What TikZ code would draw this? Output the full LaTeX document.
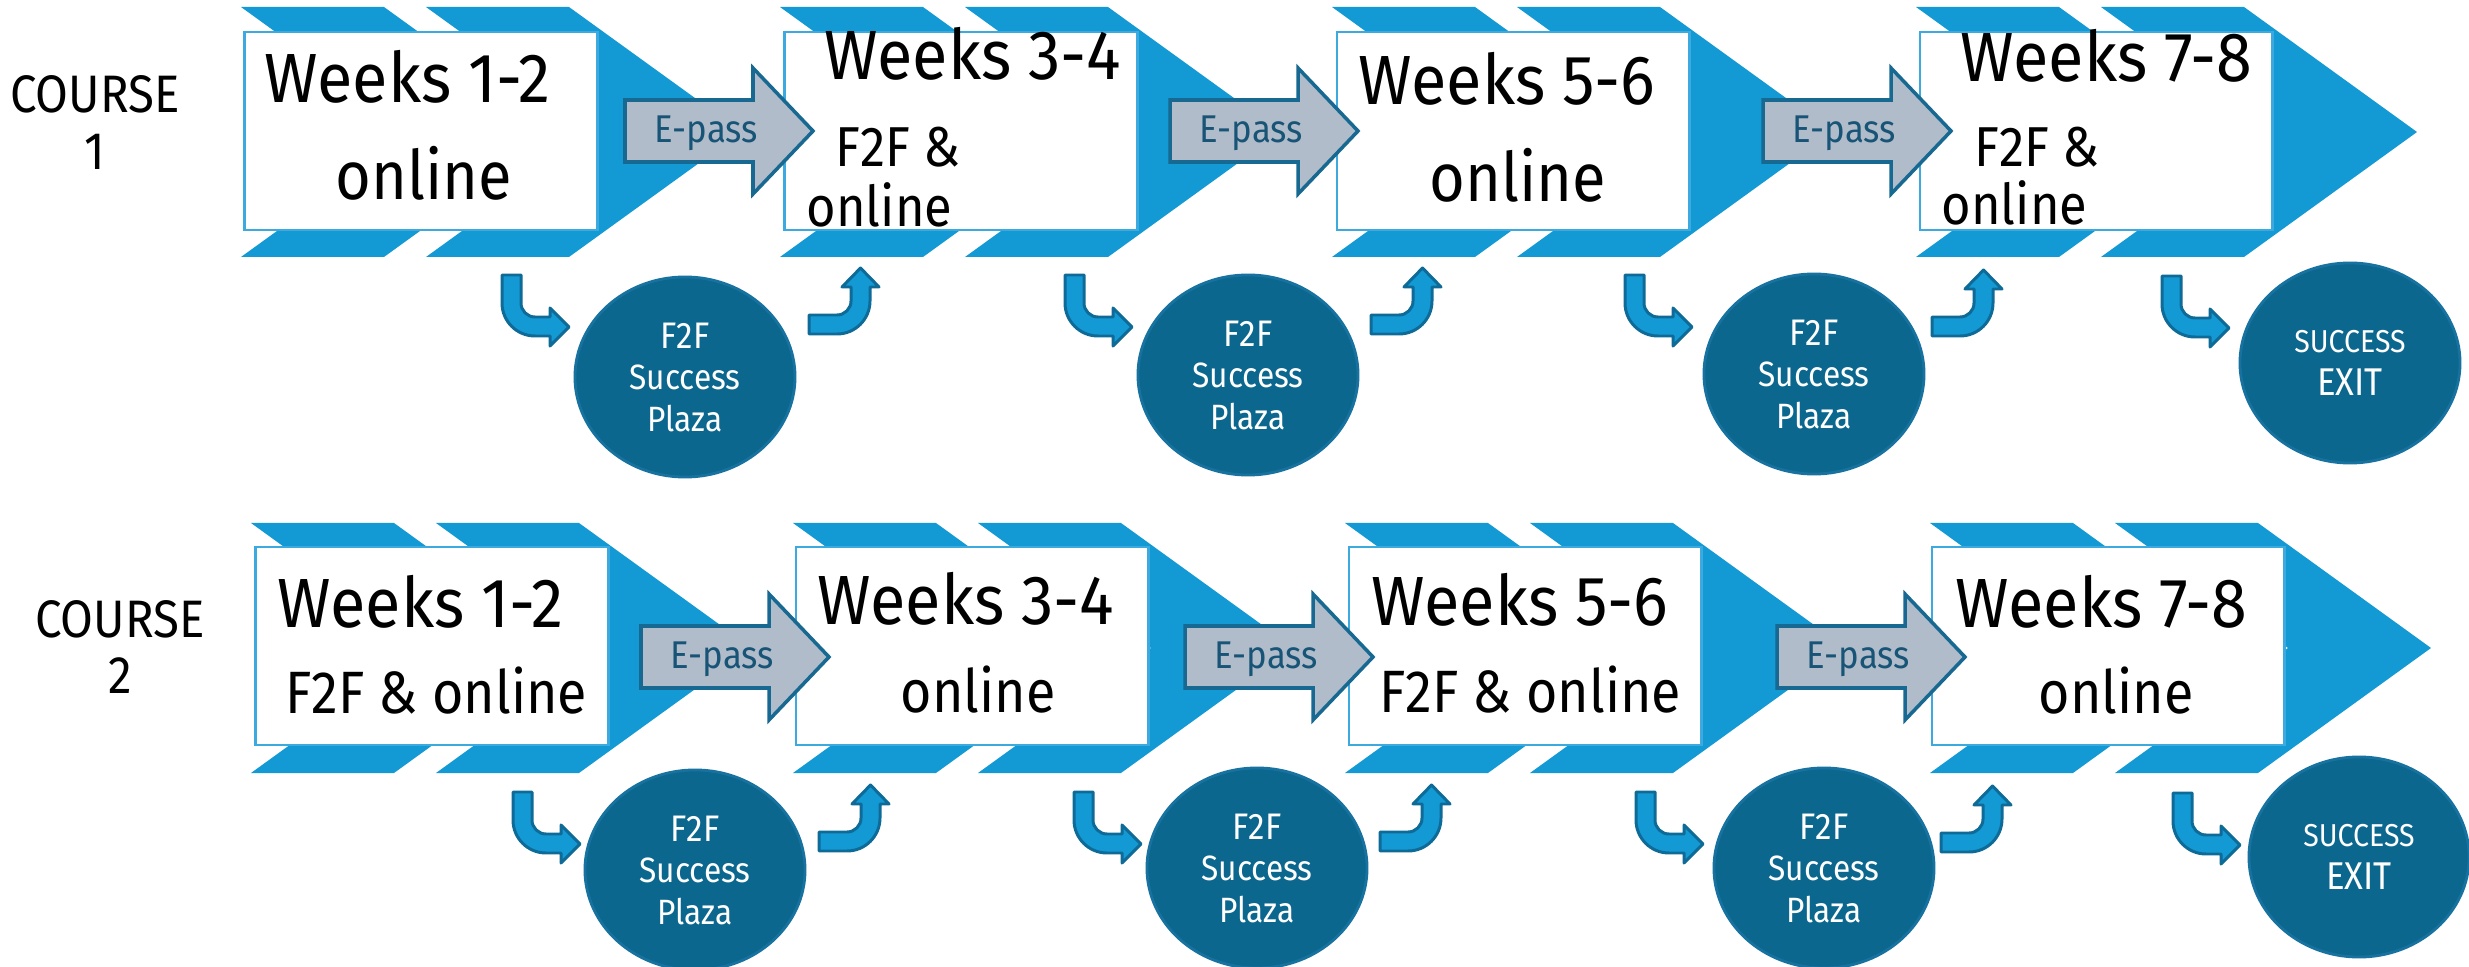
\documentclass[tikz,border=0pt]{standalone}
\usepackage{fontspec}
\setmainfont{Fira Sans}[FakeStretch=0.9]
\newfontfamily\wkfont{Fira Sans}[FakeStretch=0.93]
\usetikzlibrary{shapes.geometric}
\definecolor{chevblue}{RGB}{19,153,212}
\definecolor{rimblue}{RGB}{60,170,222}
\definecolor{plazablue}{RGB}{12,103,143}
\definecolor{plazarim}{RGB}{24,114,160}
\definecolor{passgray}{RGB}{177,188,203}
\definecolor{passrim}{RGB}{23,105,145}
\definecolor{passtext}{RGB}{24,84,118}
\definecolor{bendrim}{RGB}{14,106,150}
\newcommand{\chev}[2]{\fill[chevblue] (#1,#2) -- ++(143,0) -- ++(173,125) -- ++(-173,125) -- ++(-143,0) -- ++(173,-125) -- cycle;}
\newcommand{\epass}[3]{\filldraw[pass,shift={(#2,#3)}] (0,-31) -- (128,-31) -- (128,-63) -- (188,0) -- (128,63) -- (128,31) -- (0,31) -- cycle;
  \node[passtxt] (#1) at (#2+29,#3+12) {E-pass};}
\newcommand{\dnarr}[2]{\filldraw[bentarr,shift={(#1,#2)}] (19,0) -- (0,0) -- (0,28) arc[start angle=180,end angle=90,radius=33] -- (48,61) -- (48,71) -- (67,52) -- (48,33) -- (48,42) -- (33,42) arc[start angle=90,end angle=180,radius=14] -- cycle;}
\newcommand{\uparr}[2]{\filldraw[bentarr,shift={(#1,#2)}] (0,0) -- (0,19) -- (28,19) arc[start angle=90,end angle=0,radius=33] -- (61,-28) -- (70,-28) -- (51.5,-47) -- (33,-28) -- (42,-28) -- (42,-14) arc[start angle=0,end angle=90,radius=14] -- cycle;}
\tikzset{
  wkbox/.style={draw=rimblue,fill=white,line width=0.8pt,minimum width=3.52cm,minimum height=1.98cm,inner sep=0},
  wk/.style={anchor=base west,inner sep=0,font=\wkfont\fontsize{19.8}{22}\selectfont},
  big/.style={anchor=base west,inner sep=0,font=\fontsize{19.4}{22}\selectfont},
  sm/.style={anchor=base west,inner sep=0,font=\fontsize{16}{19}\selectfont},
  md/.style={anchor=base west,inner sep=0,font=\fontsize{17}{20}\selectfont},
  course/.style={anchor=base,inner sep=0,font=\fontsize{15}{17}\selectfont},
  pass/.style={fill=passgray,draw=passrim,line width=1pt},
  passtxt/.style={anchor=base west,inner sep=0,text=passtext,font=\fontsize{11}{13}\selectfont},
  bentarr/.style={fill=chevblue,draw=bendrim,line width=0.85pt,line join=round},
  plaza/.style={ellipse,fill=plazablue,draw=plazarim,line width=0.8pt,minimum width=2.2cm,minimum height=2cm,inner sep=0,text=white,align=center,font=\fontsize{10}{11.8}\selectfont},
  exitc/.style={plaza,font=\fontsize{10}{12.2}\selectfont}
}
\begin{document}
\begin{tikzpicture}[x=0.01cm,y=-0.01cm]
\useasboundingbox (0,0) rectangle (2469,967);
% chevron bands
\foreach \a/\t in {241/7,780/7,1332/7,1916/7,251/523,793/523,1345/523,1930/523}{\chev{\a}{\t}\chev{\a+185}{\t}}
\foreach \n/\x/\y in {11/421/131,12/961/131,13/1513/131,14/2096/131,21/432/646,22/972/646,23/1525/646,24/2108/646}
  \node[wkbox] (box\n) at (\x,\y) {};
\epass{e11}{625}{131}\epass{e12}{1170}{131}\epass{e13}{1763}{131}
\epass{e21}{641}{657}\epass{e22}{1185}{657}\epass{e23}{1777}{657}
% course 1
\node[course] (c1) at (95,113) {COURSE};
\node[course] (n1) at (95,170) {1};
\node[wk] (w11) at (264,103) {Weeks 1-2};
\node[big] (o11) at (335,200) {online};
\node[wk] (w12) at (824,80) {Weeks 3-4};
\node[sm] (f12) at (835,167) {F2F \&};
\node[sm] (o12) at (806,227) {online};
\node[wk] (w13) at (1358,105) {Weeks 5-6};
\node[big] (o13) at (1429,202) {online};
\node[wk] (w14) at (1960,82) {Weeks 7-8};
\node[sm] (f14) at (1974,167) {F2F \&};
\node[sm] (o14) at (1941,225) {online};
% course 2
\node[course] (c2) at (120,637) {COURSE};
\node[course] (n2) at (120,693) {2};
\node[wk] (w21) at (277,627) {Weeks 1-2};
\node[md] (o21) at (285,713) {F2F \& online};
\node[wk] (w22) at (817,625) {Weeks 3-4};
\node[md] (o22) at (900,712) {online};
\node[wk] (w23) at (1371,626) {Weeks 5-6};
\node[md] (o23) at (1379,712) {F2F \& online};
\node[wk] (w24) at (1955,627) {Weeks 7-8};
\node[md] (o24) at (2038,713) {online};
% bent arrows
\dnarr{502}{275}\dnarr{1065}{275}\dnarr{1625}{275}\dnarr{2162}{276}
\uparr{809}{315}\uparr{1371}{315}\uparr{1932}{317}
\dnarr{513}{792}\dnarr{1074}{792}\dnarr{1636}{792}\dnarr{2173}{793}
\uparr{819}{832}\uparr{1380}{832}\uparr{1941}{833}
% plazas
\foreach \n/\x/\y in {11/685/377,12/1248/375,13/1814/374,21/695/870,22/1257/868,23/1824/868}
  \node[plaza] (p\n) at (\x,\y) {{\fontsize{10.5}{12}\selectfont F2F}\\Success\\Plaza};
\node[exitc] (x1) at (2350,363) {{\fontsize{9}{11}\selectfont SUCCESS}\\{\fontsize{11}{13}\selectfont EXIT}};
\node[exitc] (x2) at (2359,857) {{\fontsize{9}{11}\selectfont SUCCESS}\\{\fontsize{11}{13}\selectfont EXIT}};
\end{tikzpicture}
\end{document}
